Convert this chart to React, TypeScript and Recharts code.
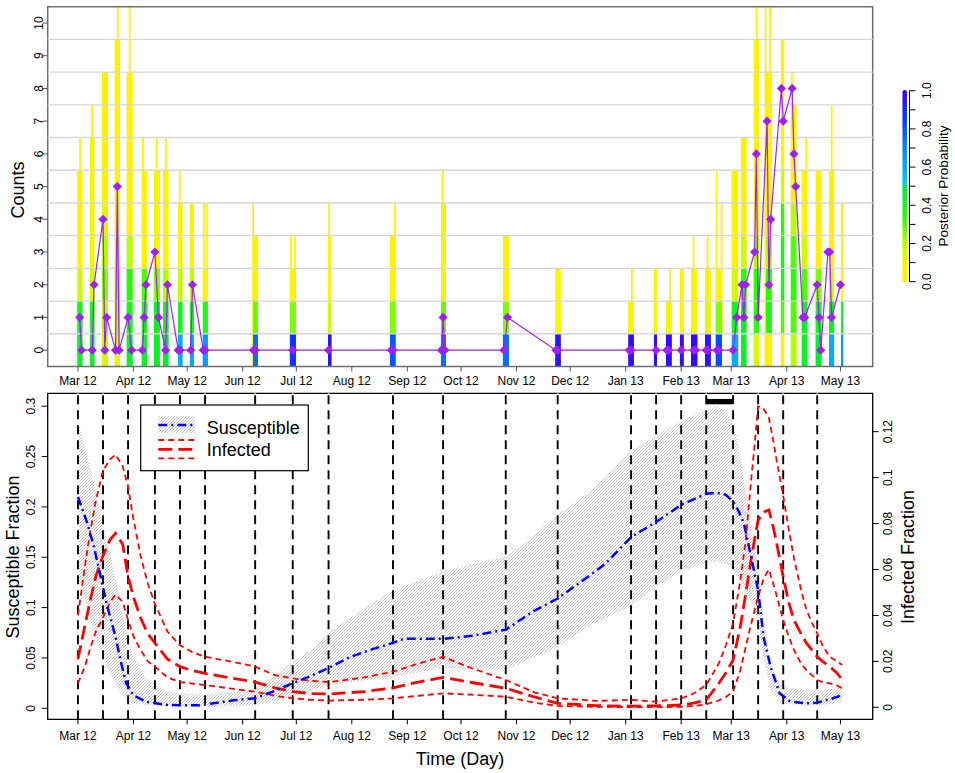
import React from 'react';
import { ComposedChart, XAxis, YAxis, Line, Area, ReferenceArea, ReferenceLine } from 'recharts';

const FONT = '"Liberation Sans", Arial, Helvetica, sans-serif';

// x is days since 1 Mar 2012
const X_DOMAIN: [number, number] = [-16.9, 444];
const MONTH_DAYS = [0, 31, 61, 92, 122, 153, 184, 214, 245, 275, 306, 337, 365, 396, 426];
const MONTH_LABELS = ['Mar 12', 'Apr 12', 'May 12', 'Jun 12', 'Jul 12', 'Aug 12', 'Sep 12', 'Oct 12', 'Nov 12', 'Dec 12', 'Jan 13', 'Feb 13', 'Mar 13', 'Apr 13', 'May 13'];

// ---- top panel: observed counts + posterior of true counts ----
const COUNT_TICKS = [0, 1, 2, 3, 4, 5, 6, 7, 8, 9, 10];
const GRID_Y = [0.5, 1.5, 2.5, 3.5, 4.5, 5.5, 6.5, 7.5, 8.5, 9.5];

const OBS_DAY = [1, 2, 8, 9, 14, 15, 16, 21, 22, 23, 28, 30, 36, 37, 38, 43, 45, 49, 50, 56, 57, 63, 64, 70, 71, 98, 99, 120, 140, 175, 176, 203, 204, 205, 238, 240, 267, 268, 308, 309, 323, 329, 330, 337, 344, 345, 351, 352, 357, 358, 366, 368, 371, 372, 373, 378, 379, 380, 385, 386, 387, 393, 394, 399, 400, 401, 405, 406, 413, 414, 415, 419, 420, 421, 426];
const OBS_COUNT = [1, 0, 0, 2, 4, 0, 1, 0, 5, 0, 1, 0, 0, 1, 2, 3, 1, 0, 2, 0, 0, 0, 2, 0, 0, 0, 0, 0, 0, 0, 0, 0, 1, 0, 0, 1, 0, 0, 0, 0, 0, 0, 0, 0, 0, 0, 0, 0, 0, 0, 0, 1, 2, 1, 2, 3, 6, 1, 7, 2, 4, 8, 7, 8, 6, 5, 1, 1, 2, 1, 0, 3, 3, 1, 2];

// posterior columns: day span and probability of each count level (0, 1, 2, ...)
const COL_FROM = [-0.4, 6.7, 13.4, 20.5, 27.2, 35.6, 42.5, 47.5, 55.9, 62.6, 69.7, 97.8, 118.4, 139.7, 174.3, 202.8, 237.4, 266.6, 307.4, 321.8, 328.5, 336.3, 342.5, 350.3, 356.3, 365.2, 370.4, 377.5, 384.4, 392.7, 398.2, 404.3, 412.1, 419.6, 426.3];
const COL_TO = [2.6, 9.3, 16.8, 23.5, 30.6, 38.7, 45.8, 50.7, 58.5, 64.8, 72.6, 100.6, 121.8, 141.7, 177.5, 205.6, 240.8, 269.8, 310.6, 323.5, 331.8, 338.5, 346.1, 353.6, 359.8, 368.9, 373.6, 380.6, 387.7, 394.6, 401.5, 407.6, 415.5, 422.5, 427.6];
const COL_PROBS: number[][] = [
  [0.45, 0.42, 0.15, 0.02, 0.02, 0.02],
  [0.45, 0.4, 0.15, 0.03, 0.02, 0.02, 0.02],
  [0.15, 0.2, 0.25, 0.2, 0.12, 0.03, 0.02, 0.02, 0.02],
  [0.12, 0.2, 0.22, 0.15, 0.1, 0.05, 0.03, 0.02, 0.02, 0.02],
  [0.45, 0.4, 0.35, 0.2, 0.04, 0.03, 0.02, 0.02, 0.02],
  [0.45, 0.4, 0.3, 0.05, 0.03, 0.02],
  [0.45, 0.45, 0.25, 0.03, 0.02, 0.02],
  [0.48, 0.4, 0.2, 0.03, 0.02, 0.02],
  [0.6, 0.42, 0.18, 0.03, 0.02],
  [0.62, 0.42, 0.18, 0.03, 0.02],
  [0.65, 0.38, 0.04],
  [0.75, 0.28, 0.04, 0.02],
  [0.88, 0.25, 0.04],
  [0.95, 0.15, 0.03, 0.02],
  [0.8, 0.25, 0.03, 0.02],
  [0.75, 0.28, 0.04, 0.02, 0.02],
  [0.75, 0.25, 0.03, 0.02],
  [0.95, 0.03, 0.02],
  [0.97, 0.03],
  [0.97, 0.03, 0.02],
  [0.97, 0.03],
  [0.97, 0.03, 0.02],
  [0.97, 0.03, 0.02],
  [0.95, 0.12, 0.03],
  [0.82, 0.25, 0.04],
  [0.6, 0.42, 0.15, 0.03, 0.02, 0.02],
  [0.45, 0.45, 0.35, 0.15, 0.03, 0.02, 0.02],
  [0.15, 0.35, 0.35, 0.2, 0.05, 0.03, 0.02, 0.02, 0.02, 0.02],
  [0.08, 0.38, 0.35, 0.2, 0.1, 0.05, 0.03, 0.02, 0.02],
  [0.03, 0.3, 0.4, 0.4, 0.35, 0.15, 0.05, 0.03, 0.02, 0.02],
  [0.2, 0.3, 0.35, 0.3, 0.2, 0.05, 0.03, 0.02],
  [0.45, 0.45, 0.3, 0.15, 0.03, 0.02],
  [0.48, 0.42, 0.25, 0.03, 0.02, 0.02],
  [0.6, 0.45, 0.15, 0.03, 0.02, 0.02],
  [0.65, 0.45, 0.03, 0.02, 0.02],
];
// thin tails of negligible probability
const SPIKE_DAY = [1.2, 8, 22.3, 28.9, 36.3, 44, 49.1, 56.9, 70.4, 72.1, 97.9, 118.9, 121.2, 140.3, 177.1, 203.8, 309.5, 330.7, 343.9, 351.8, 356.8, 359.6, 379.2, 384.1, 386.6, 398.9, 406.9, 421.1];
const SPIKE_TOP = [6, 7, 11, 11, 6, 6, 6, 5, 4, 4, 4, 3, 3, 4, 4, 5, 2, 2, 3, 3, 5, 4, 11, 11, 11, 8, 6, 7];

const PROB_STOPS: [number, string][] = [
  [0, '#FFF200'], [0.08, '#FFF200'], [0.2, '#B4FF00'], [0.33, '#2EFF00'], [0.5, '#00E83C'],
  [0.51, '#00CCFF'], [0.7, '#0088FF'], [0.85, '#0040FF'], [1, '#3C00FF'],
];
const KEY_TICKS = [0, 0.1, 0.2, 0.3, 0.4, 0.5, 0.6, 0.7, 0.8, 0.9, 1];

// ---- bottom panel: model fractions ----
const EVENT_DAYS = [0, 14, 28, 43, 57, 71, 99, 120, 140, 176, 204, 239, 268, 309, 323, 337, 351, 366, 380, 394, 413];
const HIGHLIGHT = [351, 366];
const S_TICKS = [0, 0.05, 0.1, 0.15, 0.2, 0.25, 0.3];
const I_TICKS = [0, 0.02, 0.04, 0.06, 0.08, 0.1, 0.12];
const S_DOMAIN: [number, number] = [-0.0109, 0.3128];
const I_DOMAIN: [number, number] = [-0.00522, 0.1367];

const S_DAY = [0, 5, 9, 12, 16, 21, 24, 27, 31, 38, 50, 68, 87, 99, 111, 120, 130, 140, 152, 165, 176, 182, 204, 220, 239, 254, 268, 286, 295, 309, 323, 337, 351, 357, 362, 366, 369, 372, 376, 380, 383, 387, 392, 398, 407, 413, 420, 427];
const S_MED = [0.21, 0.185, 0.16, 0.136, 0.104, 0.071, 0.046, 0.025, 0.013, 0.0066, 0.0033, 0.003, 0.008, 0.01, 0.018, 0.025, 0.032, 0.04, 0.051, 0.059, 0.065, 0.069, 0.069, 0.072, 0.078, 0.096, 0.109, 0.132, 0.144, 0.17, 0.185, 0.202, 0.213, 0.214, 0.212, 0.205, 0.196, 0.184, 0.151, 0.117, 0.071, 0.041, 0.015, 0.0066, 0.005, 0.0056, 0.009, 0.013];
const S_LO = [0.13, 0.1, 0.075, 0.06, 0.042, 0.025, 0.015, 0.008, 0.005, 0.003, 0.002, 0.001, 0.002, 0.003, 0.007, 0.012, 0.017, 0.023, 0.026, 0.029, 0.031, 0.033, 0.04, 0.039, 0.038, 0.05, 0.061, 0.082, 0.09, 0.101, 0.121, 0.136, 0.144, 0.146, 0.143, 0.137, 0.13, 0.12, 0.105, 0.085, 0.051, 0.018, 0.007, 0.004, 0.003, 0.003, 0.004, 0.006];
const S_HI = [0.286, 0.252, 0.222, 0.2, 0.168, 0.13, 0.1, 0.075, 0.052, 0.03, 0.016, 0.014, 0.016, 0.02, 0.034, 0.046, 0.058, 0.075, 0.09, 0.104, 0.117, 0.121, 0.136, 0.143, 0.151, 0.17, 0.192, 0.215, 0.23, 0.255, 0.271, 0.285, 0.296, 0.2996, 0.295, 0.283, 0.262, 0.228, 0.184, 0.141, 0.09, 0.045, 0.025, 0.02, 0.018, 0.018, 0.019, 0.021];

const I_DAY = [0, 4, 7, 10, 14, 18, 21, 25, 28, 31, 35, 39, 43, 50, 57, 64, 71, 85, 99, 110, 120, 130, 140, 160, 176, 190, 204, 220, 239, 255, 268, 290, 309, 323, 337, 344, 351, 358, 362, 366, 370, 373, 376, 378, 380, 383, 386, 388, 390, 394, 397, 400, 404, 407, 410, 413, 416, 420, 424, 427];
const I_HI = [0.04, 0.062, 0.077, 0.09, 0.103, 0.108, 0.11, 0.105, 0.096, 0.082, 0.066, 0.054, 0.045, 0.033, 0.027, 0.024, 0.022, 0.02, 0.0177, 0.014, 0.0126, 0.0115, 0.011, 0.013, 0.0155, 0.019, 0.022, 0.017, 0.0119, 0.0065, 0.0039, 0.0028, 0.0032, 0.0025, 0.0039, 0.006, 0.0097, 0.019, 0.027, 0.0366, 0.055, 0.072, 0.098, 0.114, 0.131, 0.13, 0.126, 0.118, 0.109, 0.092, 0.078, 0.065, 0.051, 0.0424, 0.037, 0.0322, 0.027, 0.022, 0.02, 0.0184];
const I_MED = [0.021, 0.036, 0.047, 0.057, 0.066, 0.073, 0.0757, 0.071, 0.057, 0.048, 0.039, 0.032, 0.028, 0.021, 0.0177, 0.016, 0.0148, 0.0128, 0.011, 0.0085, 0.0068, 0.006, 0.0058, 0.0068, 0.0085, 0.011, 0.013, 0.0108, 0.0083, 0.0045, 0.0017, 0.0007, 0.0005, 0.0006, 0.001, 0.0018, 0.0032, 0.0104, 0.015, 0.0206, 0.035, 0.049, 0.064, 0.073, 0.0815, 0.085, 0.0859, 0.08, 0.0728, 0.0569, 0.046, 0.038, 0.032, 0.0279, 0.025, 0.022, 0.02, 0.0177, 0.015, 0.0119];
const I_LO = [0.0104, 0.018, 0.026, 0.033, 0.039, 0.046, 0.049, 0.046, 0.038, 0.031, 0.025, 0.02, 0.0177, 0.013, 0.011, 0.0103, 0.0097, 0.0082, 0.0068, 0.005, 0.0039, 0.0033, 0.0029, 0.0033, 0.0039, 0.005, 0.0061, 0.0055, 0.0046, 0.002, 0.0006, 0.0002, 0.0001, 0.0001, 0.0002, 0.0006, 0.0013, 0.003, 0.0045, 0.0068, 0.016, 0.026, 0.036, 0.042, 0.0482, 0.056, 0.06, 0.055, 0.0496, 0.038, 0.031, 0.025, 0.019, 0.0162, 0.014, 0.0119, 0.011, 0.0104, 0.0095, 0.0083];

const obsRows = OBS_DAY.map((day, i) => ({ day, count: OBS_COUNT[i] }));
const sRows = S_DAY.map((day, i) => ({ day, med: S_MED[i], band: [S_LO[i], S_HI[i]] }));
const iRows = (vals: number[]) => I_DAY.map((day, i) => ({ day, v: vals[i] }));

const hex = (c: string) => [1, 3, 5].map((k) => parseInt(c.slice(k, k + 2), 16));
const probColor = (p: number) => {
  let i = 1;
  while (i < PROB_STOPS.length - 1 && p > PROB_STOPS[i][0]) i++;
  const [p0, c0] = PROB_STOPS[i - 1];
  const [p1, c1] = PROB_STOPS[i];
  const t = Math.max(0, Math.min(1, (p - p0) / (p1 - p0)));
  const a = hex(c0);
  const b = hex(c1);
  return `rgb(${a.map((v, k) => Math.round(v + (b[k] - v) * t)).join(',')})`;
};

const monthTick = (props: any) => {
  const { x, y, payload } = props;
  const label = MONTH_LABELS[MONTH_DAYS.indexOf(payload.value)];
  return (
    <text x={x} y={y + 11.5} textAnchor="middle" fontSize={12} fontFamily={FONT} fill="#000">
      {label}
    </text>
  );
};

const sideTick = (side: 'left' | 'right') => (props: any) => {
  const { x, y, payload } = props;
  const cx = side === 'left' ? x - 4.3 : x + 4.3;
  return (
    <text transform={`translate(${cx},${y}) rotate(-90)`} textAnchor="middle" dy="0.36em" fontSize={12} fontFamily={FONT} fill="#000">
      {String(payload.value)}
    </text>
  );
};

const Diamond = (props: any) => {
  const { cx, cy, index } = props;
  if (cx == null || cy == null) return null;
  const r = 4.6;
  return <polygon key={index} points={`${cx},${cy - r} ${cx + r},${cy} ${cx},${cy + r} ${cx - r},${cy}`} fill="#A020F0" />;
};

const HatchPattern = ({ id }: { id: string }) => (
  <pattern id={id} patternUnits="userSpaceOnUse" width="3" height="3">
    <path d="M-1,1 l2,-2 M0,3 l3,-3 M2,4 l2,-2" stroke="#adadad" strokeWidth="0.7" />
  </pattern>
);

function CountsChart() {
  const tailColor = probColor(0.02);
  return (
    <ComposedChart width={955} height={390} data={obsRows} margin={{ top: 6.7, right: 82.3, bottom: 0, left: 0 }}>
      <XAxis type="number" dataKey="day" domain={X_DOMAIN} allowDataOverflow ticks={MONTH_DAYS} interval={0}
        height={23.5} axisLine={false} tickLine={{ stroke: '#555' }} tickSize={5} tickMargin={2} tick={monthTick} />
      <YAxis type="number" domain={[-0.5, 10.5]} allowDataOverflow ticks={COUNT_TICKS} interval={0}
        width={47.7} axisLine={false} tickLine={{ stroke: '#555' }} tickSize={5} tickMargin={0} tick={sideTick('left')} />
      {GRID_Y.map((v) => (
        <ReferenceLine key={'g' + v} y={v} stroke="#d6d6d6" strokeWidth={1.4} />
      ))}
      {SPIKE_DAY.map((d, i) => (
        <ReferenceArea key={'s' + i} x1={d - 0.5} x2={d + 0.5} y1={-0.5} y2={SPIKE_TOP[i] + 0.5}
          fill={tailColor} fillOpacity={1} stroke="none" ifOverflow="hidden" />
      ))}
      {COL_FROM.flatMap((from, c) =>
        COL_PROBS[c].map((p, lvl) => (
          <ReferenceArea key={`b${c}-${lvl}`} x1={from} x2={COL_TO[c]} y1={lvl - 0.5} y2={lvl + 0.5}
            fill={probColor(p)} fillOpacity={1} stroke="none" ifOverflow="hidden" />
        )),
      )}
      <ReferenceArea x1={X_DOMAIN[0]} x2={X_DOMAIN[1]} y1={-0.5} y2={10.5} fill="none" stroke="#6e6e6e" strokeWidth={1.5} />
      <Line type="linear" dataKey="count" stroke="#A020F0" strokeWidth={1.2} dot={Diamond} activeDot={false} isAnimationActive={false} />
    </ComposedChart>
  );
}

function FractionChart() {
  return (
    <ComposedChart width={955} height={383} data={sRows} margin={{ top: 3.3, right: 0, bottom: 0, left: 0 }}>
      <defs>
        <HatchPattern id="hatch" />
      </defs>
      <XAxis type="number" dataKey="day" domain={X_DOMAIN} allowDataOverflow ticks={MONTH_DAYS} interval={0}
        height={53.7} axisLine={false} tickLine={{ stroke: '#000' }} tickSize={5} tickMargin={4.2} tick={monthTick} />
      <YAxis yAxisId="s" type="number" domain={S_DOMAIN} allowDataOverflow ticks={S_TICKS} interval={0}
        width={47.7} axisLine={false} tickLine={{ stroke: '#000' }} tickSize={6} tickMargin={6.4} tick={sideTick('left')} />
      <YAxis yAxisId="i" orientation="right" type="number" domain={I_DOMAIN} allowDataOverflow ticks={I_TICKS} interval={0}
        width={82.3} axisLine={false} tickLine={{ stroke: '#000' }} tickSize={6} tickMargin={5} tick={sideTick('right')} />
      <Area yAxisId="s" type="linear" dataKey="band" fill="url(#hatch)" fillOpacity={1} stroke="none" isAnimationActive={false} />
      {EVENT_DAYS.map((d) => (
        <ReferenceLine key={'w' + d} yAxisId="s" x={d} stroke="#fff" strokeWidth={1.5} />
      ))}
      {EVENT_DAYS.map((d) => (
        <ReferenceLine key={'v' + d} yAxisId="s" x={d} stroke="#000" strokeWidth={1.9} strokeDasharray="9 6" />
      ))}
      <ReferenceArea yAxisId="s" x1={HIGHLIGHT[0]} x2={HIGHLIGHT[1]} y1={0.3019} y2={0.3072} fill="#000" fillOpacity={1} stroke="none" />
      <Line yAxisId="i" data={iRows(I_HI)} type="linear" dataKey="v" stroke="#ff0000" strokeWidth={1.8} strokeDasharray="6 4" dot={false} activeDot={false} isAnimationActive={false} />
      <Line yAxisId="i" data={iRows(I_LO)} type="linear" dataKey="v" stroke="#ff0000" strokeWidth={1.8} strokeDasharray="6 4" dot={false} activeDot={false} isAnimationActive={false} />
      <Line yAxisId="i" data={iRows(I_MED)} type="linear" dataKey="v" stroke="#ff0000" strokeWidth={2.8} strokeDasharray="14 6" dot={false} activeDot={false} isAnimationActive={false} />
      <Line yAxisId="s" type="linear" dataKey="med" stroke="#0000ff" strokeWidth={2.5} strokeDasharray="9 4 2 4" dot={false} activeDot={false} isAnimationActive={false} />
      <ReferenceArea yAxisId="s" x1={X_DOMAIN[0]} x2={X_DOMAIN[1]} y1={S_DOMAIN[0]} y2={S_DOMAIN[1]} fill="none" stroke="#000" strokeWidth={1.3} />
    </ComposedChart>
  );
}

function Overlay() {
  // colour key geometry
  const keyX = 904.7;
  const keyBottom = 281.7;
  const keyTop = 90.7;
  const keyY = (p: number) => keyBottom - (keyBottom - keyTop) * p;
  return (
    <svg width={955} height={773} style={{ position: 'absolute', left: 0, top: 0, pointerEvents: 'none' }} fontFamily={FONT}>
      <defs>
        <linearGradient id="probGrad" gradientUnits="userSpaceOnUse" x1="0" y1={keyBottom} x2="0" y2={keyTop}>
          {PROB_STOPS.map(([p, c]) => (
            <stop key={p} offset={p} stopColor={c} />
          ))}
        </linearGradient>
        <HatchPattern id="hatchKey" />
      </defs>

      {/* axis titles */}
      <text transform="translate(18,190) rotate(-90)" textAnchor="middle" dominantBaseline="central" fontSize={18}>Counts</text>
      <text transform="translate(13,557) rotate(-90)" textAnchor="middle" dominantBaseline="central" fontSize={18}>Susceptible Fraction</text>
      <text transform="translate(908,557) rotate(-90)" textAnchor="middle" dominantBaseline="central" fontSize={18}>Infected Fraction</text>
      <text x={460} y={765} textAnchor="middle" fontSize={18}>Time (Day)</text>

      {/* posterior probability key */}
      <line x1={keyX} x2={keyX} y1={keyBottom - 1.5} y2={keyTop + 1.5} stroke="url(#probGrad)" strokeWidth={4.5} strokeLinecap="round" />
      <line x1={909.5} x2={909.5} y1={keyTop} y2={keyBottom} stroke="#000" strokeWidth={1} />
      {KEY_TICKS.map((p) => (
        <line key={p} x1={909.5} x2={915.5} y1={keyY(p)} y2={keyY(p)} stroke="#000" strokeWidth={1} />
      ))}
      {KEY_TICKS.filter((_, i) => i % 2 === 0).map((p) => (
        <text key={'t' + p} transform={`translate(926.5,${keyY(p)}) rotate(-90)`} textAnchor="middle" dy="0.36em" fontSize={12}>
          {p.toFixed(1)}
        </text>
      ))}
      <text transform="translate(943,186) rotate(-90)" textAnchor="middle" dominantBaseline="central" fontSize={13.5}>Posterior Probability</text>

      {/* legend of the lower panel */}
      <rect x={140.7} y={405} width={167.6} height={65.7} fill="#fff" stroke="#000" strokeWidth={1.2} />
      <rect x={158.3} y={416} width={36.7} height={17.3} fill="url(#hatchKey)" />
      <line x1={158.3} x2={195} y1={425} y2={425} stroke="#0000ff" strokeWidth={2.5} strokeDasharray="9 4 2 4" />
      <line x1={158.3} x2={195} y1={440} y2={440} stroke="#ff0000" strokeWidth={1.8} strokeDasharray="6 4" />
      <line x1={158.3} x2={195} y1={449.3} y2={449.3} stroke="#ff0000" strokeWidth={2.8} strokeDasharray="14 6" />
      <line x1={158.3} x2={195} y1={458.3} y2={458.3} stroke="#ff0000" strokeWidth={1.8} strokeDasharray="6 4" />
      <text x={206.7} y={433.7} fontSize={18}>Susceptible</text>
      <text x={206.7} y={455.7} fontSize={18}>Infected</text>
    </svg>
  );
}

export default function App() {
  return (
    <div style={{ position: 'absolute', left: 0, top: 0, width: 955, height: 773, background: '#fff', fontFamily: FONT }}>
      <div style={{ position: 'absolute', left: 0, top: 0 }}>
        <CountsChart />
      </div>
      <div style={{ position: 'absolute', left: 0, top: 390 }}>
        <FractionChart />
      </div>
      <Overlay />
    </div>
  );
}
